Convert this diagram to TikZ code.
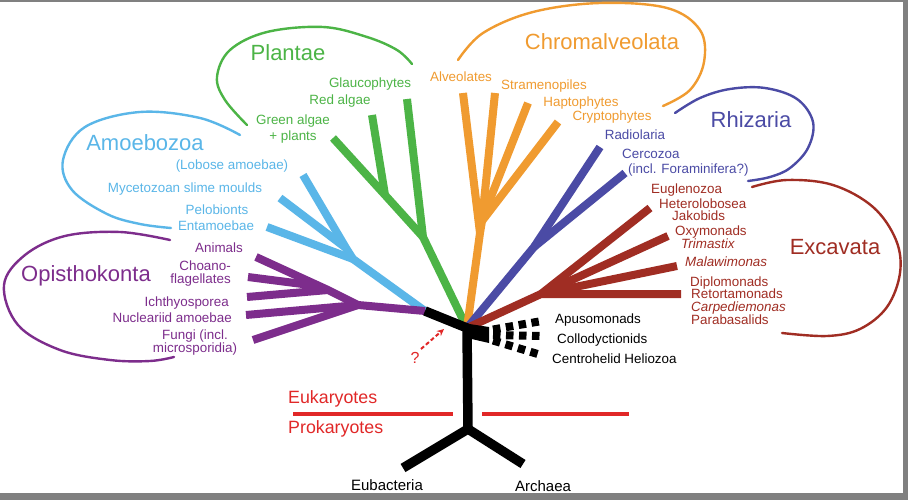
\documentclass[tikz,border=0pt]{standalone}
\usepackage{fontspec}
\setmainfont{Liberation Sans}
\usetikzlibrary{arrows.meta}
\definecolor{purp}{RGB}{125,45,140}
\definecolor{sky}{RGB}{90,182,232}
\definecolor{grn}{RGB}{76,180,70}
\definecolor{orng}{RGB}{240,155,48}
\definecolor{indg}{RGB}{75,75,165}
\definecolor{brwn}{RGB}{160,45,35}
\definecolor{redc}{RGB}{225,40,40}
\definecolor{frame}{RGB}{128,128,128}
\begin{document}
\begin{tikzpicture}[x=1pt,y=-1pt,
  branch/.style={line width=8pt, line cap=butt, line join=round},
  trunk/.style={line width=9.5pt, line cap=butt, line join=round, black},
  oval/.style={line width=2.4pt, line cap=round},
  lab/.style={font=\fontsize{13.4}{13}\selectfont, inner sep=0pt},
  ttl/.style={font=\fontsize{22}{26}\selectfont, inner sep=0pt},
  dots/.style={line width=8pt, dash pattern=on 7.5pt off 5.5pt, black}]
\useasboundingbox (0,0) rectangle (908,500);
\fill[frame] (0,0) rectangle (908,500);
\fill[white] (0,1.6) rectangle (903,493);

% ---- coordinates
\coordinate (J) at (467,328);
\coordinate (K) at (425,311);
\coordinate (F) at (468,429);
\coordinate (EB) at (403,468);
\coordinate (AR) at (523,464);
\coordinate (P1) at (358,305);
\coordinate (P2) at (328,290);
\coordinate (P3) at (318,286);
\coordinate (pFun) at (253,340);
\coordinate (pNuc) at (246,315);
\coordinate (pIch) at (247,297);
\coordinate (pCho) at (248,277);
\coordinate (pAni) at (256,257);
\coordinate (B1) at (353,259);
\coordinate (B2) at (346,248);
\coordinate (bLob) at (303,175);
\coordinate (bMyc) at (280,198);
\coordinate (bEnt) at (267,227);
\coordinate (G1) at (423,237);
\coordinate (G2) at (385,195);
\coordinate (gGla) at (407,99);
\coordinate (gRed) at (372,115);
\coordinate (gGre) at (333,138);
\coordinate (O1) at (480,233);
\coordinate (O2) at (482,221);
\coordinate (O3) at (485,212);
\coordinate (oAlv) at (463,93);
\coordinate (oStr) at (495,93);
\coordinate (oHap) at (528,103);
\coordinate (oCry) at (558,122);
\coordinate (R1) at (534,247);
\coordinate (rRad) at (600,147);
\coordinate (rCer) at (625,173);
\coordinate (E1) at (541,294);
\coordinate (eA) at (650,208);
\coordinate (eB) at (668,236);
\coordinate (eC) at (677,266);
\coordinate (eD) at (681,294);
\coordinate (D0a) at (493,329.5);
\coordinate (D0b) at (493,335);
\coordinate (D0c) at (493,340.5);
\coordinate (Da) at (542,321);
\coordinate (Db) at (542,336);
\coordinate (Dc) at (541,355);
\coordinate (Qa) at (421,349);
\coordinate (Qb) at (444,329);

% ---- branches
\draw[branch, grn] (J) -- (G1) -- (gGla);
\draw[branch, grn] (G1) -- (G2) -- (gGre);
\draw[branch, grn] (G2) -- (gRed);
\draw[branch, orng] (J) -- (O1) -- (oAlv);
\draw[branch, orng] (O1) -- (O2) -- (oStr);
\draw[branch, orng] (O2) -- (O3) -- (oHap);
\draw[branch, orng] (O2) -- (oCry);
\draw[branch, indg] (J) -- (R1) -- (rRad);
\draw[branch, indg] (R1) -- (rCer);
\draw[branch, brwn] (J) -- (E1) -- (eD);
\draw[branch, brwn] (E1) -- (eA);
\draw[branch, brwn] (E1) -- (eB);
\draw[branch, brwn] (E1) -- (eC);
\draw[branch, sky] (K) -- (B1) -- (B2) -- (bLob);
\draw[branch, sky] (B2) -- (bMyc);
\draw[branch, sky] (B1) -- (bEnt);
\draw[branch, purp] (K) -- (P1) -- (pFun);
\draw[branch, purp] (P1) -- (pNuc);
\draw[branch, purp] (P1) -- (P2) -- (pIch);
\draw[branch, purp] (P2) -- (pAni);
\draw[branch, purp] (P3) -- (pCho);
\draw[trunk] (K) -- (J) -- (F);
\draw[trunk] (EB) -- (F) -- (AR);
\fill[black] (463,323) -- (489,327) -- (489,343) -- (463,337) -- cycle;
\draw[dots] (D0a) -- (Da);
\draw[dots] (D0b) -- (Db);
\draw[dots] (D0c) -- (Dc);
\draw[redc, line width=2pt, dash pattern=on 4pt off 2.5pt, -{Stealth[length=7pt,width=6.5pt]}] (Qa) -- (Qb);

% ---- red divider
\draw[redc, line width=4pt] (293,414) -- (453,414);
\draw[redc, line width=4pt] (482,414) -- (629,414);

% ---- ovals
\draw[oval, purp] plot[smooth, tension=0.6] coordinates {(170,240) (120,232) (65,236) (25,255) (4,285) (18,325) (60,350) (110,360) (150,361) (174,357)};
\draw[oval, sky] plot[smooth, tension=0.6] coordinates {(240,135) (200,118) (140,112) (85,127) (63,160) (72,190) (107,214) (140,224) (171,228)};
\draw[oval, grn] plot[smooth, tension=0.6] coordinates {(247,125) (225,100) (217,77) (230,50) (267,32) (323,27) (367,37) (397,50) (412,64)};
\draw[oval, orng] plot[smooth, tension=0.6] coordinates {(458,60) (483,33) (533,12) (600,3) (667,8) (700,30) (704,62) (690,90) (663,106)};
\draw[oval, indg] plot[smooth, tension=0.6] coordinates {(675,113) (700,98) (730,89) (765,88) (797,99) (813,122) (808,148) (790,168) (770,177) (748,181)};
\draw[oval, brwn] plot[smooth, tension=0.6] coordinates {(752,187) (787,180) (833,185) (873,207) (896,240) (900,273) (887,307) (860,329) (827,336) (782,333)};

% ---- titles
\node[ttl, purp, anchor=base] (tOpi) at (86,281) {Opisthokonta};
\node[ttl, sky, anchor=base] (tAmo) at (145,151) {Amoebozoa};
\node[ttl, grn, anchor=base] (tPla) at (288,61) {Plantae};
\node[ttl, orng, anchor=base] (tChr) at (602,50) {Chromalveolata};
\node[ttl, indg, anchor=base] (tRhi) at (751,128) {Rhizaria};
\node[ttl, brwn, anchor=base] (tExc) at (835,254) {Excavata};

% ---- Opisthokonta labels
\node[lab, purp, anchor=base east] (lAni) at (243,252.8) {Animals};
\node[lab, purp, anchor=base east, align=right] (lCho) at (231,283.8) {Choano-\\flagellates};
\node[lab, purp, anchor=base east] (lIch) at (229,306.8) {Ichthyosporea};
\node[lab, purp, anchor=base east] (lNuc) at (232,322.8) {Nucleariid amoebae};
\node[lab, purp, anchor=base, align=center] (lFun) at (195,352.8) {Fungi (incl.\\microsporidia)};
% ---- Amoebozoa labels
\node[lab, sky, anchor=base] (lLob) at (232,169.8) {(Lobose amoebae)};
\node[lab, sky, anchor=base] (lMyc) at (185,192.8) {Mycetozoan slime moulds};
\node[lab, sky, anchor=base] (lPel) at (217,214.8) {Pelobionts};
\node[lab, sky, anchor=base] (lEnt) at (216,230.8) {Entamoebae};
% ---- Plantae labels
\node[lab, grn, anchor=base] (lGla) at (370,87.8) {Glaucophytes};
\node[lab, grn, anchor=base] (lRed) at (340,104.8) {Red algae};
\node[lab, grn, anchor=base, align=center, font=\fontsize{13.4}{16}\selectfont] (lGre) at (293,140.8) {Green algae\\+ plants};
% ---- Chromalveolata labels
\node[lab, orng, anchor=base] (lAlv) at (461,81.8) {Alveolates};
\node[lab, orng, anchor=base] (lStr) at (544,89.8) {Stramenopiles};
\node[lab, orng, anchor=base] (lHap) at (581,106.8) {Haptophytes};
\node[lab, orng, anchor=base] (lCry) at (612,120.8) {Cryptophytes};
% ---- Rhizaria labels
\node[lab, indg, anchor=base] (lRad) at (635,139.8) {Radiolaria};
\node[lab, indg, anchor=base west] (lCer) at (622,158.8) {Cercozoa};
\node[lab, indg, anchor=base west] (lFor) at (628,173.8) {(incl. Foraminifera?)};
% ---- Excavata labels
\node[lab, brwn, anchor=base west] (lEug) at (651,193.8) {Euglenozoa};
\node[lab, brwn, anchor=base west] (lHet) at (659,208.8) {Heterolobosea};
\node[lab, brwn, anchor=base west] (lJak) at (672,220.8) {Jakobids};
\node[lab, brwn, anchor=base west] (lOxy) at (675,235.8) {Oxymonads};
\node[lab, brwn, anchor=base west] (lTri) at (681,248.8) {\itshape Trimastix};
\node[lab, brwn, anchor=base west] (lMal) at (685,266.8) {\itshape Malawimonas};
\node[lab, brwn, anchor=base west] (lDip) at (690,286.8) {Diplomonads};
\node[lab, brwn, anchor=base west] (lRet) at (691,298.8) {Retortamonads};
\node[lab, brwn, anchor=base west] (lCar) at (691,311.8) {\itshape Carpediemonas};
\node[lab, brwn, anchor=base west] (lPar) at (691,324.8) {Parabasalids};
% ---- black labels
\node[lab, anchor=base west] (lApu) at (555,323.8) {Apusomonads};
\node[lab, anchor=base west] (lCol) at (557,343.8) {Collodyctionids};
\node[lab, anchor=base west] (lCen) at (552,363.8) {Centrohelid Heliozoa};
\node[inner sep=0pt, redc, font=\fontsize{16}{16}\selectfont, anchor=base] (lQ) at (415,363) {?};
% ---- bottom labels
\node[inner sep=0pt, redc, font=\fontsize{17.8}{20}\selectfont, anchor=base west] (lEuk) at (288,403.4) {Eukaryotes};
\node[inner sep=0pt, redc, font=\fontsize{17.8}{20}\selectfont, anchor=base west] (lPro) at (288,433.4) {Prokaryotes};
\node[inner sep=0pt, font=\fontsize{15}{16}\selectfont, anchor=base] (lEub) at (387,490.5) {Eubacteria};
\node[inner sep=0pt, font=\fontsize{15}{16}\selectfont, anchor=base] (lArc) at (543,491) {Archaea};
\end{tikzpicture}
\end{document}
